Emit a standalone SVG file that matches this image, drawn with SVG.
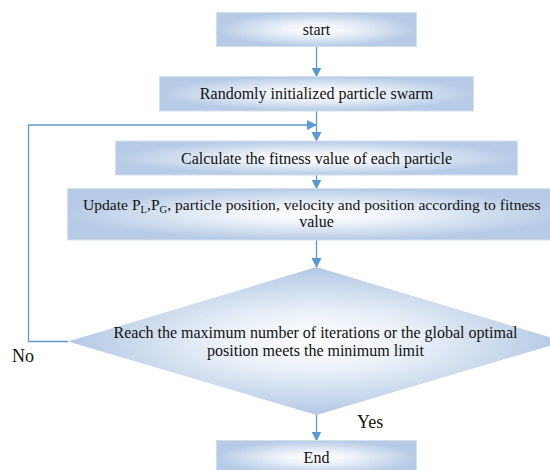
<svg xmlns="http://www.w3.org/2000/svg" width="550" height="470" viewBox="0 0 550 470">
<style>
.box{fill:url(#g);stroke:#d3e0f0;stroke-width:1}
.t{font-family:"Liberation Serif","DejaVu Serif","Times New Roman",serif;font-size:16px;fill:#111}
.m{text-anchor:middle}
.c{fill:none;stroke:#5b9bd5;stroke-width:1.3}
</style>
<defs>
<radialGradient id="g" cx="0.5" cy="0.5" r="0.5">
<stop offset="0" stop-color="#ffffff"/>
<stop offset="0.35" stop-color="#eef3fa"/>
<stop offset="1" stop-color="#b7cbe6"/>
</radialGradient>
<radialGradient id="gd" cx="0.5" cy="0.5" r="0.5">
<stop offset="0" stop-color="#ffffff"/>
<stop offset="0.4" stop-color="#eaf0f8"/>
<stop offset="1" stop-color="#b3c8e4"/>
</radialGradient>
<marker id="a" markerWidth="10" markerHeight="10" refX="9" refY="5" orient="auto" markerUnits="userSpaceOnUse">
<path d="M0,0 L10,5 L0,10 Z" fill="#5b9bd5"/>
</marker>
</defs>
<g id="connectors">
<line class="c" x1="316.5" y1="47" x2="316.5" y2="76.5" marker-end="url(#a)"/>
<line class="c" x1="316.5" y1="111" x2="316.5" y2="141" marker-end="url(#a)"/>
<polyline class="c" points="68,341.5 28.5,341.5 28.5,125 316,125" marker-end="url(#a)"/>
<line class="c" x1="316.5" y1="175" x2="316.5" y2="188.5" marker-end="url(#a)"/>
<line class="c" x1="316.5" y1="240" x2="316.5" y2="267" marker-end="url(#a)"/>
<line class="c" x1="316.5" y1="415" x2="316.5" y2="440.5" marker-end="url(#a)"/>
</g>
<g id="start">
<rect class="box" x="216.5" y="12.5" width="200" height="34"/>
<text class="t m" x="316.5" y="34.5">start</text>
</g>
<g id="init">
<rect class="box" x="159.5" y="76.5" width="314" height="34.5"/>
<text class="t m" x="316.5" y="98.5">Randomly initialized particle swarm</text>
</g>
<g id="fitness">
<rect class="box" x="115.5" y="141" width="402" height="34"/>
<text class="t m" x="316.5" y="163.5">Calculate the fitness value of each particle</text>
</g>
<g id="update">
<rect class="box" x="67.5" y="188.5" width="495" height="51.5"/>
<text class="t" x="83" y="210" style="font-size:15.6px">Update P<tspan font-size="10.5" dy="3">L</tspan><tspan dy="-3">,P</tspan><tspan font-size="10.5" dy="3">G</tspan><tspan dy="-3">, particle position, velocity and position according to fitness</tspan></text>
<text class="t m" x="316.5" y="227">value</text>
</g>
<g id="decision">
<polygon points="316.5,267 564,341.5 316.5,415 68,341.5" fill="url(#gd)"/>
<text class="t m" x="315.5" y="338">Reach the maximum number of iterations or the global optimal</text>
<text class="t m" x="315.5" y="356">position meets the minimum limit</text>
</g>
<g id="end">
<rect class="box" x="216.5" y="440.5" width="200" height="34"/>
<text class="t m" x="316.5" y="463">End</text>
</g>
<text class="t" x="12" y="362" style="font-size:18px">No</text>
<text class="t" x="357" y="428" style="font-size:18px">Yes</text>
</svg>
